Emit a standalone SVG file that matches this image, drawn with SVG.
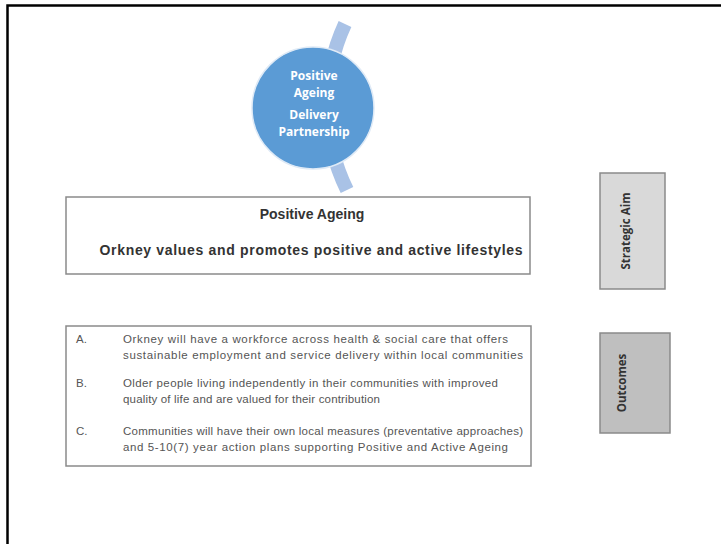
<svg xmlns="http://www.w3.org/2000/svg" width="721" height="544" viewBox="0 0 721 544">
<style>
.frame{fill:none;stroke:#000;stroke-width:2.5}
.box{fill:#fff;stroke:#8a8a8a;stroke-width:1.5}
.h{font-family:"Liberation Sans",Arial,sans-serif;font-weight:bold;fill:#333;font-size:14px}
.o{font-family:"Liberation Sans",Arial,sans-serif;fill:#555;font-size:11.5px}
.lab{font-family:"Open Sans","Liberation Sans",sans-serif;font-weight:bold;fill:#333;font-size:11.5px}
.ct{font-family:"Open Sans","Liberation Sans",sans-serif;font-weight:bold;fill:#fff;font-size:12px;text-anchor:middle}
</style>
<rect width="721" height="544" fill="#fff"/>
<path class="frame" d="M7.5,544 V5.5 H721"/>
<g id="partnership">
<path d="M345,24 A193,193 0 0 0 347,190" fill="none" stroke="#a9c2e6" stroke-width="14"/>
<circle cx="313" cy="108" r="61" fill="#5b9bd5" stroke="#dfeaf6" stroke-width="1.5"/>
<text class="ct" x="314" y="80">Positive</text>
<text class="ct" x="314" y="97">Ageing</text>
<text class="ct" x="314" y="119">Delivery</text>
<text class="ct" x="314" y="136">Partnership</text>
</g>
<g id="aim">
<rect class="box" x="66" y="197" width="464" height="77"/>
<text class="h" x="312" y="219" text-anchor="middle">Positive Ageing</text>
<text class="h" x="311" y="255" text-anchor="middle" textLength="423">Orkney values and promotes positive and active lifestyles</text>
</g>
<g id="aim-label">
<rect x="600" y="173" width="65" height="116" fill="#d9d9d9" stroke="#8a8a8a" stroke-width="1.5"/>
<text class="lab" transform="translate(630,231) rotate(-90)" text-anchor="middle">Strategic Aim</text>
</g>
<g id="outcomes">
<rect class="box" x="66" y="326" width="465" height="140"/>
<text class="o" x="76" y="343">A.</text>
<text class="o" x="123" y="343" textLength="385">Orkney will have a workforce across health &amp; social care that offers</text>
<text class="o" x="123" y="359" textLength="400">sustainable employment and service delivery within local communities</text>
<text class="o" x="76" y="387">B.</text>
<text class="o" x="123" y="387" textLength="375">Older people living independently in their communities with improved</text>
<text class="o" x="123" y="403" textLength="257">quality of life and are valued for their contribution</text>
<text class="o" x="76" y="435">C.</text>
<text class="o" x="123" y="435" textLength="400">Communities will have their own local measures (preventative approaches)</text>
<text class="o" x="123" y="451" textLength="385">and 5-10(7) year action plans supporting Positive and Active Ageing</text>
</g>
<g id="outcomes-label">
<rect x="600" y="333" width="70" height="100" fill="#bfbfbf" stroke="#8a8a8a" stroke-width="1.5"/>
<text class="lab" transform="translate(626,383) rotate(-90)" text-anchor="middle">Outcomes</text>
</g>
<g id="connectors"></g>
</svg>
